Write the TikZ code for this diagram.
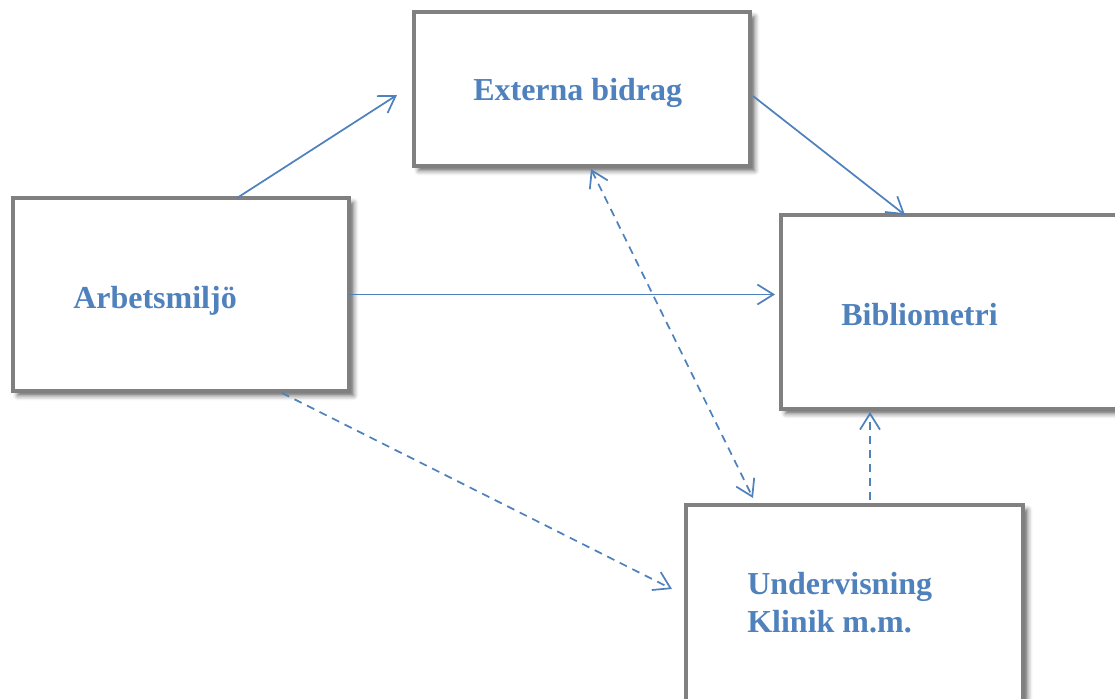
\documentclass[tikz,border=0pt]{standalone}
\usepackage{fontspec}
\setmainfont{Liberation Serif}
\usetikzlibrary{arrows.meta,calc,fit,shadows.blur}
\definecolor{boxgray}{HTML}{808080}
\definecolor{linkblue}{HTML}{4F81BD}
\tikzset{
  box/.style={draw=boxgray, line width=2.6pt, fill=white, inner sep=0pt, outer sep=0pt,
    blur shadow={shadow xshift=3.5pt, shadow yshift=-3.5pt, shadow blur radius=3.5pt, shadow opacity=60}},
  lbl/.style={anchor=base west, inner sep=0pt, text=linkblue, font=\fontsize{24}{28}\selectfont\bfseries},
  barb/.tip={Straight Barb[length=12pt,width=15pt,line width=1.3pt]},
  link/.style={draw=linkblue, line width=1.3pt, -barb},
  dlink/.style={link, dash pattern=on 6pt off 4.5pt},
}
\begin{document}
\begin{tikzpicture}[x=0.75pt,y=-0.75pt]
  \useasboundingbox (0,0) rectangle (1115,699);
  \clip (0,0) rectangle (1115,699);
  % boxes
  \node[box, fit={(414,12) (750,166)}] (ext) {};
  \node[box, fit={(13,198) (349,391)}] (arb) {};
  \node[box, fit={(781,215) (1135,409)}] (bib) {};
  \node[box, fit={(686,505) (1023,725)}] (und) {};
  % labels
  \node[lbl] (tExt) at (473,101) {Externa bidrag};
  \node[lbl] (tArb) at (73,308) {Arbetsmiljö};
  \node[lbl] (tBib) at (841,325) {Bibliometri};
  \node[lbl] (tUnd1) at (747,594) {Undervisning};
  \node[lbl] (tUnd2) at (747,632) {Klinik m.m.};
  % free arrow ends
  \coordinate (pExt) at (397,95);
  \coordinate (pBib) at (775,294.5);
  \coordinate (pUnd) at (672,589);
  \coordinate (pUndTop) at (753,498);
  \coordinate (pExtBot) at (591,169);
  \coordinate (pBibBot) at (870,412);
  % connectors
  \draw[link] ($(arb.north west)+(224,0)$) -- (pExt);
  \draw[link] ($(ext.north east)+(3,84)$) -- ($(bib.north west)+(124,0)$);
  \draw[link] (arb.east) -- (pBib);
  \draw[dlink] ($(arb.south west)+(269,2)$) -- (pUnd);
  \draw[dlink, barb-barb] (pExtBot) -- (pUndTop);
  \draw[dlink] ($(und.north west)+(184,-5)$) -- (pBibBot);
\end{tikzpicture}
\end{document}
